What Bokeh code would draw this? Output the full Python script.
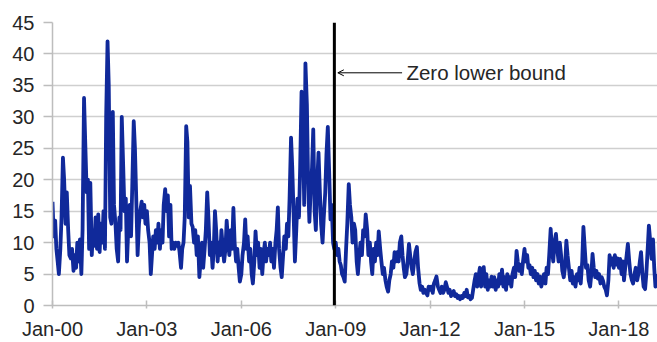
import pandas as pd
from bokeh.plotting import figure
from bokeh.models import (ColumnDataSource, FixedTicker, DatetimeTickFormatter, Span,
                          Arrow, OpenHead, Label, Range1d)
from bokeh.embed import file_html
from bokeh.resources import INLINE

# ---- data: semi-monthly readings (1st and 15th of each month) ----
v2000 = [16.5, 11, 13.5, 9, 7, 5, 9, 14, 23.5, 20, 13, 18, 12, 8, 7.5, 9, 5.5, 8, 6, 10, 7, 10.5, 5, 12]
v2001 = [33, 26, 18, 20, 9, 19.5, 8, 12, 9.5, 14, 9, 14.5, 8.5, 13, 10, 15, 9, 30, 42, 35, 14, 13, 30.8, 16]
v2002 = [13, 9, 7, 14, 12, 30, 22, 15, 17, 7, 13, 16, 11, 19, 29.3, 25, 16, 8, 13, 15, 16.5, 14, 16, 13]
v2003 = [15, 12, 10, 5, 8, 11, 9, 12, 10, 13, 9, 12, 10, 16, 18.5, 15, 17.5, 11, 16, 9, 10, 9, 10, 9.5]
v2004 = [10, 8.5, 6, 9, 10, 14, 28.5, 26, 14, 19, 13, 12.5, 10, 12, 8, 11, 4.5, 7, 10, 6, 9, 12, 18, 14]
v2005 = [8, 10, 6, 9, 15, 12, 7, 10, 8, 12, 9, 7, 9, 13.5, 10, 8, 12, 9, 15.5, 10, 7, 9, 6, 3.8]
v2006 = [5, 8, 10, 13.7, 9, 11, 7, 9, 5, 3.5, 7, 11.8, 8, 10, 6, 9, 5, 8, 10, 7, 9, 8, 10, 7]
v2007 = [9, 6, 10, 12, 15.6, 9, 6, 4.5, 8, 11, 9, 13, 11, 17, 26.7, 22, 14, 7, 12, 17, 14, 22, 34, 30]
v2008 = [16, 38.5, 32, 20, 13.3, 18, 22, 28, 15, 12, 20, 24.3, 18, 13, 10, 14, 18, 24, 28.4, 22, 13.7, 16, 10, 9]
v2009 = [10, 8, 9, 7, 6.4, 5, 4.5, 3.8, 9, 13, 19.3, 16, 14, 10, 13, 12, 7, 5, 8, 10, 8, 12, 11, 14.5]
v2010 = [12, 8, 10, 7, 5, 9, 7, 10, 8, 11.8, 9, 7, 5, 6, 4, 3, 2.2, 4, 5, 7, 6, 8.5, 7, 8.5]
v2011 = [7, 10, 11, 8, 6, 4.5, 5, 7, 9.8, 8, 6, 5, 7, 8.5, 9.3, 6, 3.5, 2.5, 3, 2, 2.5, 2, 1.6, 3]
v2012 = [2.5, 3, 2, 3.5, 4, 4.6, 3, 2.5, 2, 3, 2, 2.5, 3.7, 3, 2, 2.5, 1.5, 2, 2.3, 1.5, 1.8, 1.2, 1.5, 1.0]
v2013 = [1.5, 1.2, 2, 1.5, 2.5, 1.3, 1.5, 1, 1.2, 2.5, 4, 5, 3, 4.5, 6, 3, 5.5, 6.1, 3, 5, 2.5, 4, 3, 4.6]
v2014 = [3, 4.5, 2.5, 4, 3, 5, 3.5, 5.7, 3, 4.5, 2.5, 5, 3.5, 4.5, 3, 5, 6, 4.5, 8.7, 7, 5.5, 6.5, 5, 7]
v2015 = [9, 7, 8, 6, 6.4, 5, 6, 4.5, 5.5, 4, 5, 3.5, 4.6, 3, 4, 5, 3.5, 6, 5, 8, 12.2, 9, 7, 10]
v2016 = [11.4, 9, 7, 10, 8, 5.5, 4.5, 6, 10.3, 8, 5.8, 4, 5.5, 3.5, 4.5, 3, 5, 4, 6, 3.5, 7, 12.5, 9, 6]
v2017 = [6.4, 4, 3, 5, 8.2, 6, 4.5, 5.5, 4.3, 5, 3.5, 4.5, 3.9, 3, 2.5, 1.6, 4, 8, 6.5, 7.5, 6, 8, 6.5, 7.5]
v2018 = [6, 7.4, 5, 7, 4, 6, 8, 9.8, 7, 5, 4, 3.5, 5, 6, 4, 5, 7, 8.5, 5, 3, 2.6, 5, 9, 12.7]
v2019 = [10, 7.4, 10.5, 6, 3, 5]

values = (v2000 + v2001 + v2002 + v2003 + v2004 + v2005 + v2006 + v2007 + v2008 + v2009 +
          v2010 + v2011 + v2012 + v2013 + v2014 + v2015 + v2016 + v2017 + v2018 + v2019)
dates = pd.date_range("2000-01-01", periods=len(values), freq="SMS")

tick_years = [2000, 2003, 2006, 2009, 2012, 2015, 2018]
y_ticks = [0, 5, 10, 15, 20, 25, 30, 35, 40, 45]

zlb_date = pd.Timestamp("2008-12-16")
note_text = "Zero lower bound"

# ---- figure ----
src = ColumnDataSource(dict(date=dates, v=values))

x_start = pd.Timestamp("2000-01-01")
x_end = pd.Timestamp("2019-03-25")

p = figure(width=657, height=342, x_axis_type="datetime", output_backend="svg",
           toolbar_location=None, min_border_left=52, min_border_right=0,
           min_border_top=22, min_border_bottom=35,
           x_range=Range1d(x_start, x_end), y_range=Range1d(0, 45))
p.outline_line_color = None
p.background_fill_color = "white"
p.border_fill_color = "white"

p.line("date", "v", source=src, line_color="#10299a", line_width=3.8, line_join="round")

# vertical marker
p.add_layout(Span(location=zlb_date, dimension="height", line_color="black", line_width=3))

# annotation
arrow_y = 37
p.add_layout(Arrow(end=OpenHead(size=6, line_width=1, line_color="black"),
                   x_start=pd.Timestamp("2011-02-10"), x_end=pd.Timestamp("2009-01-25"),
                   y_start=arrow_y, y_end=arrow_y, line_color="black", line_width=1))
p.add_layout(Label(x=pd.Timestamp("2011-04-01"), y=arrow_y, text=note_text,
                   text_baseline="middle", text_font="Liberation Sans",
                   text_font_size="20.5px", text_color="#262626"))

# axes
tick_ms = [pd.Timestamp(f"{y}-01-01").value // 10**6 for y in tick_years]
p.xaxis.ticker = FixedTicker(ticks=tick_ms)
p.xaxis.formatter = DatetimeTickFormatter(years="%b-%y", months="%b-%y", days="%b-%y",
                                          hours="%b-%y", minutes="%b-%y", seconds="%b-%y",
                                          milliseconds="%b-%y", minsec="%b-%y", hourmin="%b-%y")
p.yaxis.ticker = FixedTicker(ticks=y_ticks)

for ax in (p.xaxis, p.yaxis):
    ax.axis_line_color = "#bdbdbd"
    ax.axis_line_width = 1.5
    ax.major_tick_line_color = "#bdbdbd"
    ax.major_tick_line_width = 1.5
    ax.minor_tick_line_color = None
    ax.major_label_text_font = "Liberation Sans"
    ax.major_label_text_font_size = "20px"
    ax.major_label_text_color = "#262626"

p.yaxis.major_tick_out = 9
p.yaxis.major_tick_in = 0
p.yaxis.major_label_standoff = 9
p.xaxis.major_tick_out = 3
p.xaxis.major_tick_in = 5
p.xaxis.major_label_standoff = 9

p.xgrid.grid_line_color = None
p.ygrid.grid_line_color = "#cfcfcf"
p.ygrid.grid_line_width = 1.5

open("out.html", "w").write(file_html(p, INLINE))
